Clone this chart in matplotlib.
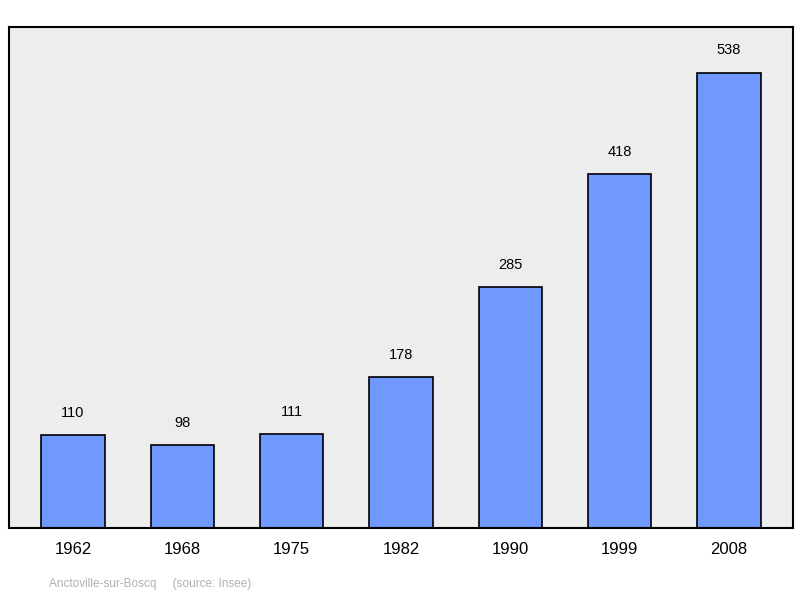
import matplotlib
matplotlib.use("Agg")
import matplotlib.pyplot as plt
from matplotlib.patches import FancyBboxPatch

years = ["1962", "1968", "1975", "1982", "1990", "1999", "2008"]
population = [110, 98, 111, 178, 285, 418, 538]

plt.rcParams['font.family'] = ['Liberation Sans', 'DejaVu Sans']

fig = plt.figure(figsize=(8, 5.98), dpi=100)
# box in pixels: left 9, right 793, top 27, bottom 528
ax = fig.add_axes([9 / 800, 1 - 528 / 598, 784 / 800, 501 / 598])
ax.set_facecolor('#ededed')
for s in ax.spines.values():
    s.set_linewidth(1.5)
    s.set_color('black')

x = range(len(years))
ax.bar(x, population, width=0.58, color='#7099ff', edgecolor='black', linewidth=1.2, zorder=2)
for xi, v in zip(x, population):
    ax.text(xi, v + 18, str(v), ha='center', va='bottom', fontsize=10.5)

ax.set_xlim(-0.585, 6.585)
ax.set_ylim(0, 592)
ax.set_yticks([])
ax.set_xticks(list(x))
ax.set_xticklabels(years, fontsize=12)
ax.tick_params(axis='x', length=0, pad=10)

fig.text(49 / 800, 1 - 584 / 598, "Anctoville-sur-Boscq     (source: Insee)",
         fontsize=8.5, color='#b0b0b0', va='center')

fig.savefig("out.png", dpi=100)
